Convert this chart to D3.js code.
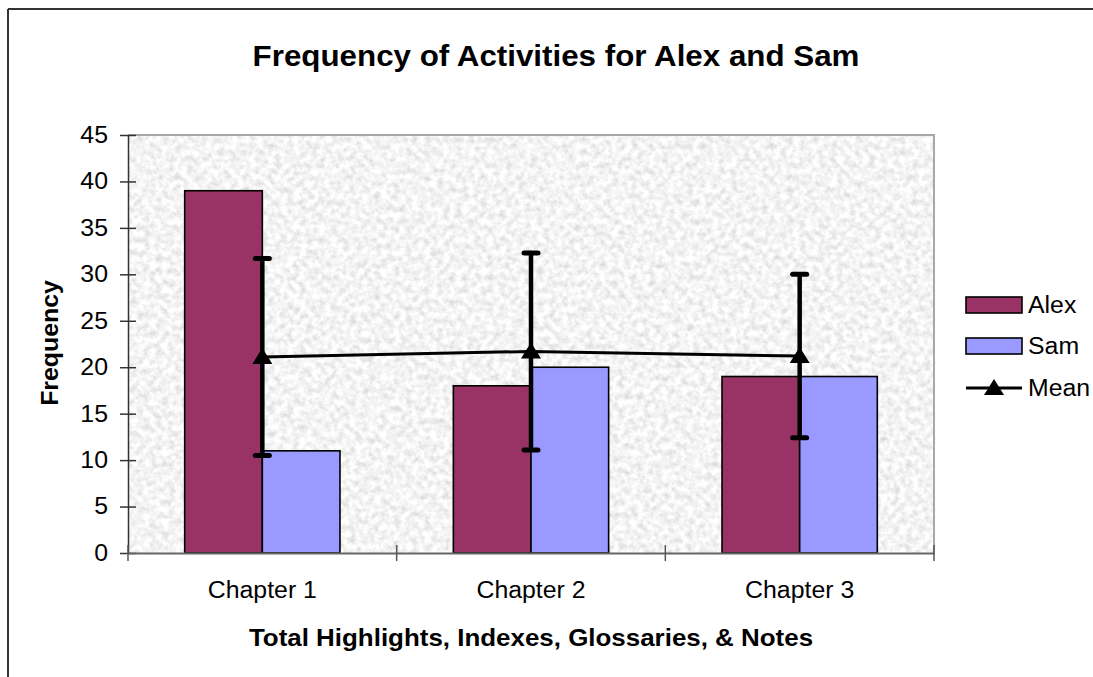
<!DOCTYPE html>
<html>
<head>
<meta charset="utf-8">
<script src="https://cdn.jsdelivr.net/npm/d3@7/dist/d3.min.js"></script>
<style>
  html, body { margin: 0; padding: 0; background: #fff; }
  svg { display: block; font-family: "Liberation Sans", Arial, sans-serif; }
</style>
</head>
<body>
<svg id="chart" width="1093" height="677"></svg>
<script>
// Chart data
const categories = ["Chapter 1", "Chapter 2", "Chapter 3"];
const seriesNames = ["Alex", "Sam"];
const alexValues = [39, 18, 19];
const samValues = [11, 20, 19];
const meanValues = [21.1, 21.7, 21.2];
const meanErrors = [10.6, 10.6, 8.8];
const yTicks = [0, 5, 10, 15, 20, 25, 30, 35, 40, 45];
const colors = { Alex: "#993366", Sam: "#9999ff" };

const svg = d3.select("#chart");
const W = 1093, H = 677;
const plot = { left: 128, right: 934, top: 135, bottom: 553 };

// Granite-style texture for the plot background, clipped to the plot rectangle
const defs = svg.append("defs");
const flt = defs.append("filter").attr("id", "granite")
  .attr("filterUnits", "userSpaceOnUse")
  .attr("x", plot.left).attr("y", plot.top)
  .attr("width", plot.right - plot.left).attr("height", plot.bottom - plot.top);
flt.append("feTurbulence").attr("type", "fractalNoise")
  .attr("baseFrequency", "0.16").attr("numOctaves", 4).attr("seed", 7).attr("result", "n");
flt.append("feColorMatrix").attr("in", "n").attr("type", "matrix")
  .attr("values", "0.55 0 0 0 0.63  0.55 0 0 0 0.63  0.55 0 0 0 0.63  0 0 0 0 1")
  .attr("result", "g");
flt.append("feComposite").attr("in", "g").attr("in2", "SourceGraphic").attr("operator", "in");

// Outer chart frame (top and left edges visible)
svg.append("line").attr("x1", 8).attr("x2", W).attr("y1", 9).attr("y2", 9)
  .attr("stroke", "#333").attr("stroke-width", 2);
svg.append("line").attr("x1", 8).attr("x2", 8).attr("y1", 9).attr("y2", H)
  .attr("stroke", "#333").attr("stroke-width", 2);

// Scales
const groupFrac = 0.578;
const x0 = d3.scaleBand().domain(categories)
  .range([plot.left, plot.right])
  .paddingInner(1 - groupFrac).paddingOuter((1 - groupFrac) / 2);
const x1 = d3.scaleBand().domain(seriesNames).range([0, x0.bandwidth()]);
const y = d3.scaleLinear().domain([0, 45]).range([plot.bottom, plot.top]);

// Plot area
svg.append("rect")
  .attr("x", plot.left).attr("y", plot.top)
  .attr("width", plot.right - plot.left).attr("height", plot.bottom - plot.top)
  .attr("fill", "#e6e6e6").attr("filter", "url(#granite)");
svg.append("path")
  .attr("d", `M${plot.left},${plot.top}H${plot.right}V${plot.bottom}`)
  .attr("fill", "none").attr("stroke", "#a8a8a8").attr("stroke-width", 2);

// Bars
const rows = categories.map((c, i) => ({ cat: c, Alex: alexValues[i], Sam: samValues[i] }));
const groups = svg.append("g").selectAll("g").data(rows).join("g")
  .attr("transform", d => `translate(${x0(d.cat)},0)`);
groups.selectAll("rect")
  .data(d => seriesNames.map(k => ({ key: k, value: d[k] })))
  .join("rect")
  .attr("x", d => x1(d.key))
  .attr("y", d => y(d.value))
  .attr("width", x1.bandwidth())
  .attr("height", d => y(0) - y(d.value))
  .attr("fill", d => colors[d.key])
  .attr("stroke", "#000").attr("stroke-width", 1.6);

// Y axis
const yAxis = svg.append("g").attr("transform", `translate(${plot.left},0)`)
  .call(d3.axisLeft(y).tickValues(yTicks).tickSize(8).tickPadding(12).tickSizeOuter(0));
yAxis.select(".domain").attr("stroke", "#333").attr("stroke-width", 1.5);
yAxis.selectAll(".tick line").attr("x1", 8).attr("stroke", "#333").attr("stroke-width", 1.5);
yAxis.selectAll("text").attr("font-size", 23).attr("fill", "#000")
  .attr("font-family", "Liberation Sans, Arial, sans-serif");

// X axis
const xAxis = svg.append("g").attr("transform", `translate(0,${plot.bottom})`)
  .call(d3.axisBottom(x0).tickSize(0).tickPadding(29).tickSizeOuter(0));
xAxis.select(".domain").attr("stroke", "#666").attr("stroke-width", 2);
xAxis.selectAll("text").attr("font-size", 23).attr("fill", "#000")
  .attr("font-family", "Liberation Sans, Arial, sans-serif");
const boundaries = d3.range(categories.length + 1).map(i => plot.left + i * x0.step());
svg.append("g").selectAll("line").data(boundaries).join("line")
  .attr("x1", d => d).attr("x2", d => d)
  .attr("y1", plot.bottom - 8).attr("y2", plot.bottom + 8)
  .attr("stroke", "#555").attr("stroke-width", 1.5);

// Mean line with error bars and triangle markers
const cx = c => x0(c) + x0.bandwidth() / 2;
const meanPts = categories.map((c, i) => ({ cat: c, v: meanValues[i], e: meanErrors[i] }));
const errG = svg.append("g").attr("stroke", "#000").attr("stroke-linecap", "round");
errG.selectAll("line.bar").data(meanPts).join("line").attr("class", "bar")
  .attr("x1", d => cx(d.cat)).attr("x2", d => cx(d.cat))
  .attr("y1", d => y(d.v - d.e)).attr("y2", d => y(d.v + d.e))
  .attr("stroke-width", 4.5).attr("stroke-linecap", "butt");
errG.selectAll("line.cap").data(meanPts.flatMap(d => [d.v - d.e, d.v + d.e].map(v => ({ cat: d.cat, v }))))
  .join("line").attr("class", "cap")
  .attr("x1", d => cx(d.cat) - 7).attr("x2", d => cx(d.cat) + 7)
  .attr("y1", d => y(d.v)).attr("y2", d => y(d.v))
  .attr("stroke-width", 5);

svg.append("path").datum(meanPts)
  .attr("d", d3.line().x(d => cx(d.cat)).y(d => y(d.v)))
  .attr("fill", "none").attr("stroke", "#000").attr("stroke-width", 3);

const tri = "M0,-9L10,7L-10,7Z";
svg.append("g").selectAll("path").data(meanPts).join("path")
  .attr("d", tri).attr("fill", "#000")
  .attr("transform", d => `translate(${cx(d.cat)},${y(d.v)})`);

// Legend
const legend = svg.append("g").attr("transform", "translate(966,0)");
const legendItems = [
  { name: "Alex", type: "bar", y: 305 },
  { name: "Sam", type: "bar", y: 346 },
  { name: "Mean", type: "line", y: 388 }
];
legendItems.forEach(it => {
  if (it.type === "bar") {
    legend.append("rect").attr("x", 0).attr("y", it.y - 8).attr("width", 56).attr("height", 16)
      .attr("fill", colors[it.name]).attr("stroke", "#000").attr("stroke-width", 1.6);
  } else {
    legend.append("line").attr("x1", 0).attr("x2", 56).attr("y1", it.y).attr("y2", it.y)
      .attr("stroke", "#000").attr("stroke-width", 3);
    legend.append("path").attr("d", tri).attr("transform", `translate(28,${it.y})`).attr("fill", "#000");
  }
  legend.append("text").attr("x", 62).attr("y", it.y + 8)
    .attr("font-size", 23).text(it.name);
});

// Titles
svg.append("text").attr("x", 556).attr("y", 66).attr("text-anchor", "middle")
  .attr("font-size", 29).attr("font-weight", "bold")
  .text("Frequency of Activities for Alex and Sam");
svg.append("text").attr("x", 531).attr("y", 646).attr("text-anchor", "middle")
  .attr("font-size", 24).attr("font-weight", "bold")
  .text("Total Highlights, Indexes, Glossaries, & Notes");
svg.append("text").attr("transform", "translate(58,343) rotate(-90)").attr("text-anchor", "middle")
  .attr("font-size", 23).attr("font-weight", "bold")
  .text("Frequency");

// Widen every label slightly to the chart's wide type setting
svg.selectAll("text").each(function () {
  const len = this.getComputedTextLength();
  d3.select(this).attr("textLength", len * 1.08).attr("lengthAdjust", "spacingAndGlyphs");
});
</script>
</body>
</html>
